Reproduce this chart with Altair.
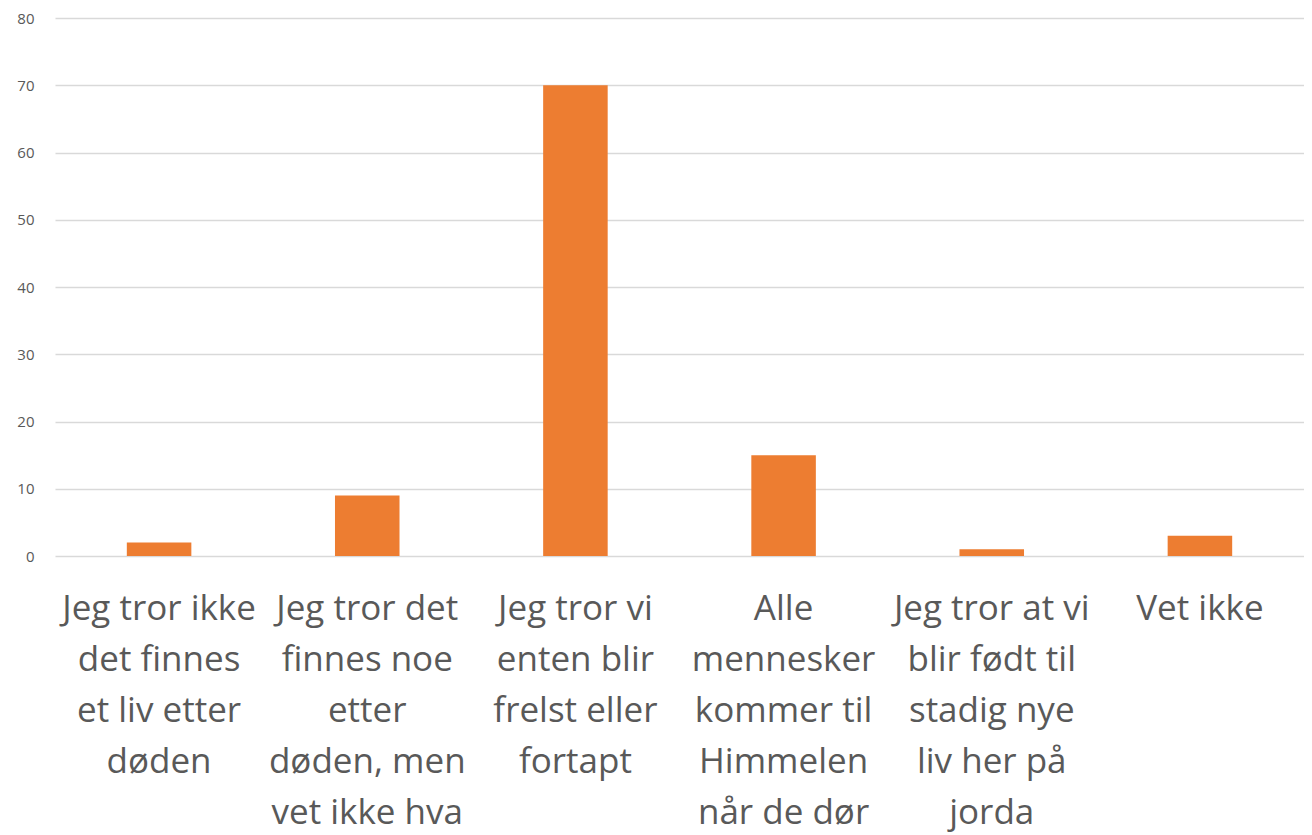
import altair as alt
import pandas as pd

categories = [
    "Jeg tror ikke\ndet finnes\net liv etter\ndøden",
    "Jeg tror det\nfinnes noe\netter\ndøden, men\nvet ikke hva",
    "Jeg tror vi\nenten blir\nfrelst eller\nfortapt",
    "Alle\nmennesker\nkommer til\nHimmelen\nnår de dør",
    "Jeg tror at vi\nblir født til\nstadig nye\nliv her på\njorda",
    "Vet ikke",
]
values = [2, 9, 70, 15, 1, 3]
y_ticks = [0, 10, 20, 30, 40, 50, 60, 70, 80]

df = pd.DataFrame({"kategori": categories, "verdi": values})

chart = (
    alt.Chart(df)
    .mark_bar(color="#ED7D31")
    .encode(
        x=alt.X(
            "kategori:N",
            sort=categories,
            title=None,
            scale=alt.Scale(paddingInner=0.69, paddingOuter=0.345),
            axis=alt.Axis(
                labelAngle=0,
                labelExpr="split(datum.value, '\\n')",
                labelFont="Open Sans",
                labelFontSize=35,
                labelLineHeight=51,
                labelColor="#595959",
                labelBaseline="top",
                labelAlign="center",
                labelPadding=35,
                labelLimit=400,
                labelOverlap=False,
                labelBound=False,
                domain=False,
                ticks=False,
                grid=False,
            ),
        ),
        y=alt.Y(
            "verdi:Q",
            title=None,
            scale=alt.Scale(domain=[0, 80], nice=False),
            axis=alt.Axis(
                values=y_ticks,
                labelFont="Open Sans",
                labelFontSize=15,
                labelColor="#595959",
                labelPadding=21,
                domain=False,
                ticks=False,
                grid=True,
                gridColor="#D9D9D9",
                gridWidth=1.3,
            ),
        ),
    )
    .properties(
        width=1249,
        height=538,
        background="white",
        autosize=alt.AutoSizeParams(type="none"),
        padding={"left": 47, "top": 10, "right": 0, "bottom": 290},
    )
    .configure_view(strokeWidth=0, stroke="transparent")
    .configure_axis(domain=False, ticks=False)
)

chart.save("out.html", embed_options={"renderer": "svg", "actions": False})
